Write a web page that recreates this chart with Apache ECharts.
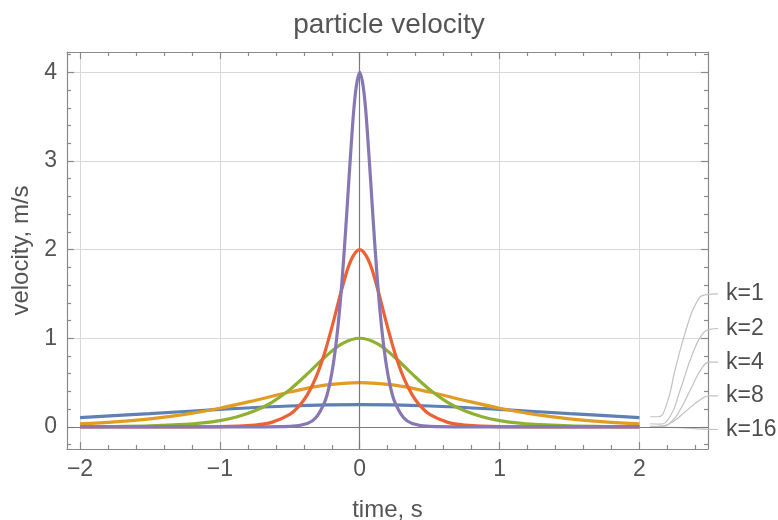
<!DOCTYPE html>
<html>
<head>
<meta charset="utf-8">
<script src="https://cdn.jsdelivr.net/npm/echarts@6/dist/echarts.min.js"></script>
<style>
  html, body { margin: 0; padding: 0; background: #fff; }
  #chart { width: 778px; height: 520px; }
</style>
</head>
<body>
<div id="chart"></div>
<script>
// time samples and velocities, one pair of arrays per curve
const tK1 = [-2, -1.5, -1, -0.5, 0, 0.5, 1, 1.5, 2];
const vK1 = [0.105, 0.149, 0.197, 0.235, 0.25, 0.235, 0.197, 0.149, 0.105];

const tK2 = [-2, -1.75, -1.5, -1.25, -1, -0.75, -0.5, -0.25, 0, 0.25, 0.5, 0.75, 1, 1.25, 1.5, 1.75, 2];
const vK2 = [0.035, 0.057, 0.09, 0.14, 0.21, 0.298, 0.393, 0.47, 0.5, 0.47, 0.393, 0.298, 0.21, 0.14, 0.09, 0.057, 0.035];

const tK4 = [-2, -1.75, -1.5, -1.25, -1.125, -1, -0.875, -0.75, -0.625, -0.5, -0.375, -0.25, -0.125, 0,
  0.125, 0.25, 0.375, 0.5, 0.625, 0.75, 0.875, 1, 1.125, 1.25, 1.5, 1.75, 2];
const vK4 = [0.001, 0.004, 0.01, 0.027, 0.044, 0.071, 0.114, 0.181, 0.28, 0.42, 0.597, 0.786, 0.94, 1,
  0.94, 0.786, 0.597, 0.42, 0.28, 0.181, 0.114, 0.071, 0.044, 0.027, 0.01, 0.004, 0.001];

const tK8 = [-2, -1.5, -1, -0.75, -0.625, -0.5, -0.4375, -0.375, -0.3125, -0.25, -0.1875, -0.125, -0.0625, 0,
  0.0625, 0.125, 0.1875, 0.25, 0.3125, 0.375, 0.4375, 0.5, 0.625, 0.75, 1, 1.5, 2];
const vK8 = [0, 0, 0.003, 0.02, 0.053, 0.141, 0.228, 0.361, 0.561, 0.84, 1.193, 1.573, 1.88, 2,
  1.88, 1.573, 1.193, 0.84, 0.561, 0.361, 0.228, 0.141, 0.053, 0.02, 0.003, 0, 0];

const tK16 = [-2, -1, -0.75, -0.5, -0.375, -0.3125, -0.25, -0.21875, -0.1875, -0.15625, -0.125, -0.09375, -0.0625, -0.03125, 0,
  0.03125, 0.0625, 0.09375, 0.125, 0.15625, 0.1875, 0.21875, 0.25, 0.3125, 0.375, 0.5, 0.75, 1, 2];
const vK16 = [0, 0, 0, 0.005, 0.039, 0.106, 0.283, 0.455, 0.723, 1.122, 1.68, 2.386, 3.146, 3.76, 4,
  3.76, 3.146, 2.386, 1.68, 1.122, 0.723, 0.455, 0.283, 0.106, 0.039, 0.005, 0, 0, 0];

const CURVE_NAMES = ['k=1', 'k=2', 'k=4', 'k=8', 'k=16'];
const CURVE_COLORS = ['#5e81b5', '#e19c24', '#8fb032', '#eb6235', '#8778b3'];

// callout leaders from the curve ends to the labels (same data units as the plot)
const leadK1 = [[2.076, 0.114], [2.133, 0.114], [2.197, 0.27], [2.254, 0.64], [2.34, 1.13], [2.41, 1.41], [2.469, 1.49], [2.562, 1.5]];
const leadK2 = [[2.076, 0.035], [2.147, 0.03], [2.22, 0.12], [2.29, 0.41], [2.376, 0.81], [2.447, 1.04], [2.504, 1.1], [2.562, 1.11]];
const leadK4 = [[2.076, 0.005], [2.16, 0.005], [2.23, 0.06], [2.29, 0.19], [2.38, 0.47], [2.45, 0.67], [2.5, 0.73], [2.562, 0.73]];
const leadK8 = [[2.076, 0], [2.169, 0.01], [2.25, 0.07], [2.326, 0.17], [2.43, 0.3], [2.5, 0.35], [2.562, 0.35]];
const leadK16 = [[2.076, 0], [2.2, -0.005], [2.35, -0.015], [2.45, -0.025], [2.562, -0.03]];
const labelX = 2.562;
const labelY = [1.5, 1.11, 0.73, 0.35, -0.03];

// tick positions
const X_MAJOR = [-2, -1, 0, 1, 2];
const X_MINOR = [-1.8, -1.6, -1.4, -1.2, -0.8, -0.6, -0.4, -0.2, 0.2, 0.4, 0.6, 0.8, 1.2, 1.4, 1.6, 1.8, 2.2, 2.4];
const Y_MAJOR = [0, 1, 2, 3, 4];
const Y_MINOR = [-0.2, 0.2, 0.4, 0.6, 0.8, 1.2, 1.4, 1.6, 1.8, 2.2, 2.4, 2.6, 2.8, 3.2, 3.4, 3.6, 3.8, 4.2];

const X_MIN = -2.093, X_MAX = 2.49, Y_MIN = -0.25, Y_MAX = 4.23;

// plot frame in pixels
const W = 778, H = 520;
const G = { left: 67, right: 70, top: 52, bottom: 71 };
const pxPerX = (W - G.left - G.right) / (X_MAX - X_MIN);
// a second, unframed grid on the right so the leaders can run past the frame
const LEAD_MIN = 2.0, LEAD_MAX = 2.7;
const G2 = {
  left: G.left + (LEAD_MIN - X_MIN) * pxPerX,
  width: (LEAD_MAX - LEAD_MIN) * pxPerX,
  top: G.top, bottom: G.bottom,
};

const FONT = 'Liberation Sans, Arial, sans-serif';
const FRAME = '#8a8a8a';
const TEXT = '#555';

const fmt = (v) => (v < 0 ? '\u2212' + Math.abs(v) : String(v));

function xAx(position, ticks, len, opts = {}) {
  return {
    type: 'value', gridIndex: 0, position, min: X_MIN, max: X_MAX,
    axisLine: { show: !!opts.line, onZero: false, lineStyle: { color: FRAME, width: 1.2 } },
    axisTick: { show: true, inside: true, length: len, customValues: ticks, lineStyle: { color: FRAME, width: 1.2 } },
    axisLabel: opts.labels
      ? { show: true, customValues: ticks, formatter: fmt, color: TEXT, fontSize: 23, fontFamily: FONT, margin: 9 }
      : { show: false },
    splitLine: { show: !!opts.split, lineStyle: { color: '#d8d8d8', width: 1 } },
    name: opts.name || '',
    nameLocation: 'middle', nameGap: 49,
    nameTextStyle: { color: TEXT, fontSize: 24, fontFamily: FONT },
  };
}

function yAx(position, ticks, len, opts = {}) {
  return {
    type: 'value', gridIndex: 0, position, min: Y_MIN, max: Y_MAX,
    axisLine: { show: !!opts.line, onZero: false, lineStyle: { color: FRAME, width: 1.2 } },
    axisTick: { show: true, inside: true, length: len, customValues: ticks, lineStyle: { color: FRAME, width: 1.2 } },
    axisLabel: opts.labels
      ? { show: true, customValues: ticks, formatter: fmt, color: TEXT, fontSize: 23, fontFamily: FONT, margin: 10 }
      : { show: false },
    splitLine: { show: !!opts.split, lineStyle: { color: '#d8d8d8', width: 1 } },
    name: opts.name || '',
    nameLocation: 'middle', nameGap: 33, nameRotate: 90,
    nameTextStyle: { color: TEXT, fontSize: 24, fontFamily: FONT },
  };
}

const hiddenAxis = (min, max) => ({
  type: 'value', gridIndex: 1, min, max, show: false,
  axisLine: { show: false }, axisTick: { show: false }, axisLabel: { show: false }, splitLine: { show: false },
});

const curves = [[tK1, vK1], [tK2, vK2], [tK4, vK4], [tK8, vK8], [tK16, vK16]];
const leaders = [leadK1, leadK2, leadK4, leadK8, leadK16];

const chart = echarts.init(document.getElementById('chart'), null, { renderer: 'canvas' });

chart.setOption({
  animation: false,
  backgroundColor: '#fff',
  title: {
    text: 'particle velocity', left: 'center', top: 6,
    textStyle: { color: TEXT, fontSize: 28, fontWeight: 'normal', fontFamily: FONT },
  },
  grid: [
    { left: G.left, right: G.right, top: G.top, bottom: G.bottom, containLabel: false, outerBoundsMode: 'none' },
    { left: G2.left, width: G2.width, top: G2.top, bottom: G2.bottom, containLabel: false, outerBoundsMode: 'none' },
  ],
  xAxis: [
    xAx('bottom', X_MAJOR, 7, { line: true, labels: true, split: true, name: 'time, s' }),
    xAx('bottom', X_MINOR, 4),
    xAx('top', X_MAJOR, 7, { line: true }),
    xAx('top', X_MINOR, 4),
    hiddenAxis(LEAD_MIN, LEAD_MAX),
  ],
  yAxis: [
    yAx('left', Y_MAJOR, 7, { line: true, labels: true, split: true, name: 'velocity, m/s' }),
    yAx('left', Y_MINOR, 4),
    yAx('right', Y_MAJOR, 7, { line: true }),
    yAx('right', Y_MINOR, 4),
    hiddenAxis(Y_MIN, Y_MAX),
  ],
  series: [
    // the two axes through the origin
    {
      type: 'line', data: [], silent: true, z: 1,
      markLine: {
        silent: true, symbol: 'none', label: { show: false },
        lineStyle: { color: '#7a7a7a', width: 1.2, type: 'solid' },
        data: [{ xAxis: 0 }, { yAxis: 0 }],
      },
    },
    ...curves.map(([t, v], i) => ({
      name: CURVE_NAMES[i],
      type: 'line',
      data: t.map((x, j) => [x, v[j]]),
      smooth: 0.35,
      symbol: 'none',
      z: 3 + i,
      lineStyle: { color: CURVE_COLORS[i], width: 3.2 },
    })),
    ...leaders.map((pts, i) => ({
      name: 'lead ' + CURVE_NAMES[i],
      type: 'line',
      xAxisIndex: 4,
      yAxisIndex: 4,
      data: pts,
      smooth: 0.5,
      symbol: 'none',
      clip: false,
      z: 2,
      lineStyle: { color: '#c2c2c2', width: 1.2 },
    })),
    {
      type: 'scatter',
      xAxisIndex: 4,
      yAxisIndex: 4,
      data: labelY.map((y, i) => ({ value: [labelX, y], name: CURVE_NAMES[i] })),
      symbolSize: 0,
      clip: false,
      label: {
        show: true, position: 'right', distance: 8,
        formatter: (p) => p.name,
        color: '#222', fontSize: 23, fontFamily: FONT,
      },
    },
  ],
});
</script>
</body>
</html>
